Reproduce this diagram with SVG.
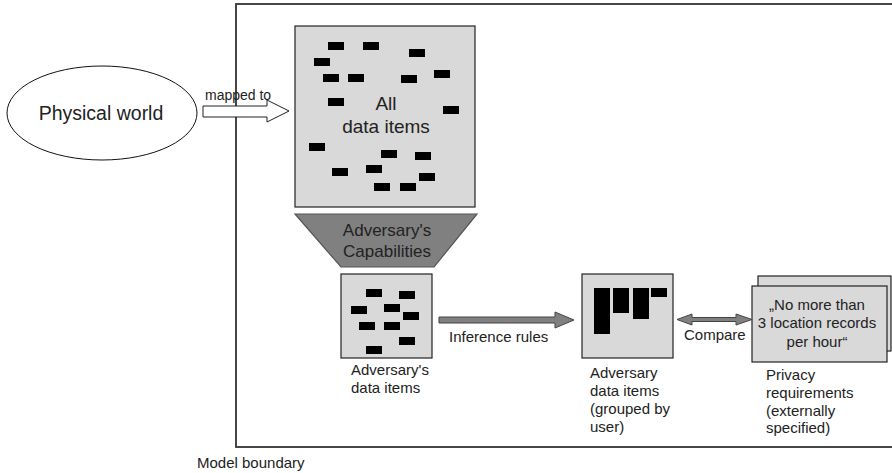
<svg xmlns="http://www.w3.org/2000/svg" width="892" height="473" viewBox="0 0 892 473">
<style>
text{font-family:"Liberation Sans",Arial,sans-serif;fill:#222;}
.box{fill:#d9d9d9;stroke:#222;stroke-width:1.2;}
.d{fill:#000;}
.lbl{font-size:15px;}
.big{font-size:19px;}
</style>
<defs>
<rect id="di" width="16" height="8" class="d"/>
</defs>
<rect width="892" height="473" fill="#fff"/>
<g id="boundary">
<rect x="236" y="4" width="720" height="443" fill="none" stroke="#333" stroke-width="1.8"/>
<text x="197" y="468" class="lbl">Model boundary</text>
</g>
<g id="physical-world">
<ellipse cx="102" cy="113" rx="95" ry="47" fill="#fff" stroke="#111" stroke-width="1"/>
<text x="101" y="120" font-size="19.5" text-anchor="middle">Physical world</text>
</g>
<g id="all-data-items">
<rect x="295" y="26" width="180" height="181" class="box"/>
<use href="#di" x="328" y="42"/><use href="#di" x="363" y="42"/><use href="#di" x="409" y="49"/>
<use href="#di" x="314" y="58"/><use href="#di" x="323" y="74"/><use href="#di" x="348" y="74"/>
<use href="#di" x="401" y="75"/><use href="#di" x="434" y="70"/><use href="#di" x="328" y="98"/>
<use href="#di" x="443" y="106"/><use href="#di" x="309" y="143"/><use href="#di" x="381" y="150"/>
<use href="#di" x="415" y="152"/><use href="#di" x="332" y="168"/><use href="#di" x="366" y="165"/>
<use href="#di" x="419" y="173"/><use href="#di" x="374" y="183"/><use href="#di" x="400" y="183"/>
<text x="386" y="110" class="big" text-anchor="middle">All</text>
<text x="386" y="133" class="big" text-anchor="middle">data items</text>
</g>
<g id="capabilities">
<polygon points="295,214 477,214 434,267 341,267" fill="#808080" stroke="#555" stroke-width="1.2"/>
<text x="387" y="236" font-size="17" text-anchor="middle">Adversary's</text>
<text x="387" y="257" font-size="17" text-anchor="middle">Capabilities</text>
</g>
<g id="adversary-data-items">
<rect x="341" y="274" width="91" height="84" class="box"/>
<use href="#di" x="366" y="289"/><use href="#di" x="399" y="291"/><use href="#di" x="351" y="306"/>
<use href="#di" x="384" y="304"/><use href="#di" x="403" y="312"/><use href="#di" x="359" y="322"/>
<use href="#di" x="384" y="322"/><use href="#di" x="399" y="337"/><use href="#di" x="366" y="346"/>
<text x="351" y="375" class="lbl">Adversary's</text>
<text x="351" y="393" class="lbl">data items</text>
</g>
<g id="grouped-data-items">
<rect x="582" y="274" width="91" height="84" class="box"/>
<rect x="594" y="288" width="16" height="46" class="d"/>
<rect x="613" y="288" width="16" height="25" class="d"/>
<rect x="633" y="288" width="16" height="31" class="d"/>
<rect x="651" y="288" width="16" height="9" class="d"/>
<text x="590" y="378" class="lbl">Adversary</text>
<text x="590" y="396" class="lbl">data items</text>
<text x="590" y="414" class="lbl">(grouped by</text>
<text x="590" y="432" class="lbl">user)</text>
</g>
<g id="privacy-requirements">
<rect x="758" y="276" width="133" height="75" class="box"/>
<rect x="752" y="286" width="135" height="76" class="box"/>
<text x="817" y="310" class="lbl" text-anchor="middle">„No more than</text>
<text x="817" y="328" class="lbl" text-anchor="middle">3 location records</text>
<text x="817" y="347" class="lbl" text-anchor="middle">per hour“</text>
<text x="766" y="380" class="lbl">Privacy</text>
<text x="766" y="398" class="lbl">requirements</text>
<text x="766" y="416" class="lbl">(externally</text>
<text x="766" y="433" class="lbl">specified)</text>
</g>
<g id="connectors">
<polygon points="203,106 267,106 267,100 289,111 267,122 267,117 203,117" fill="#fff" stroke="#222" stroke-width="1"/>
<text x="205" y="100" font-size="14">mapped to</text>
<polygon points="439,317 555,317 555,312 574,320 555,328 555,323 439,323" fill="#808080" stroke="#444" stroke-width="1"/>
<text x="449" y="342" class="lbl">Inference rules</text>
<polygon points="677,319.5 692,314 692,317.5 736,317.5 736,314 752,319.5 736,325 736,321.5 692,321.5 692,325" fill="#808080" stroke="#444" stroke-width="1"/>
<text x="684" y="340" class="lbl">Compare</text>
</g>
</svg>
